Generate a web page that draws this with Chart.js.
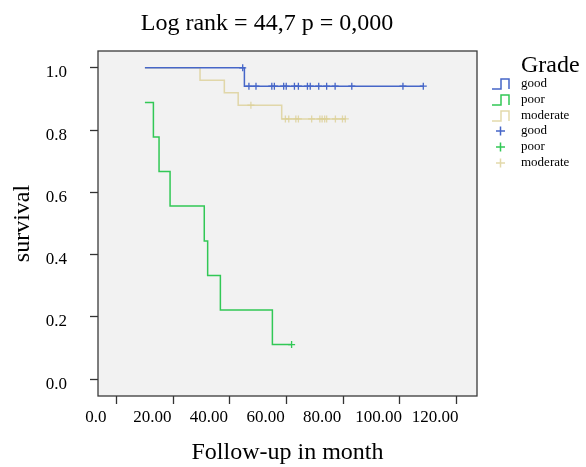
<!DOCTYPE html>
<html><head><meta charset="utf-8">
<script src="https://cdn.jsdelivr.net/npm/chart.js@4/dist/chart.umd.min.js"></script>
<style>html,body{margin:0;padding:0;background:#fff;}#wrap{width:586px;height:467px;}</style>
</head><body><div id="wrap"><canvas id="c" width="586" height="467"></canvas></div>
<script>
// ---- data ----
const titleText = 'Log rank = 44,7 p = 0,000';
const xTitle = 'Follow-up in month';
const yTitle = 'survival';
const legendTitle = 'Grade';
const groupNames = ['good', 'poor', 'moderate'];
const xTickValues = [0, 20, 40, 60, 80, 100, 120];
const xTickLabels = ['0.0', '20.00', '40.00', '60.00', '80.00', '100.00', '120.00'];
const yTickValues = [0, 0.2, 0.4, 0.6, 0.8, 1.0];
const yTickLabels = ['0.0', '0.2', '0.4', '0.6', '0.8', '1.0'];

const goodTimes = [9.9, 45.1, 108.4];
const goodSurv  = [1.0, 0.941, 0.941];
const poorTimes = [9.9, 12.9, 14.9, 18.8, 30.9, 32.1, 36.6, 55.0, 61.8];
const poorSurv  = [0.889, 0.778, 0.667, 0.556, 0.444, 0.333, 0.222, 0.111, 0.111];
const modTimes  = [9.9, 29.4, 38.0, 42.9, 58.3, 80.8];
const modSurv   = [1.0, 0.96, 0.92, 0.88, 0.836, 0.836];

const goodCensorTimes = [44.5, 46.7, 49.2, 54.8, 55.7, 59.0, 59.9, 62.8, 64.2, 67.4, 68.4, 71.4, 74.2, 77.2, 83.1, 101.2, 108.4];
const goodCensorSurv  = [1.0, 0.941, 0.941, 0.941, 0.941, 0.941, 0.941, 0.941, 0.941, 0.941, 0.941, 0.941, 0.941, 0.941, 0.941, 0.941, 0.941];
const poorCensorTimes = [61.8];
const poorCensorSurv  = [0.111];
const modCensorTimes  = [47.4, 59.6, 60.8, 63.3, 64.2, 68.9, 71.8, 72.6, 73.5, 74.2, 77.3, 79.8, 80.8];
const modCensorSurv   = [0.88, 0.836, 0.836, 0.836, 0.836, 0.836, 0.836, 0.836, 0.836, 0.836, 0.836, 0.836, 0.836];

// ---- styling ----
const colGood = 'rgb(70,102,200)';
const colPoor = 'rgb(50,200,86)';
const colMod  = 'rgba(220,208,150,0.8)';
const SERIF = '"Liberation Serif", "Times New Roman", serif';
Chart.defaults.font.family = SERIF;
Chart.defaults.color = '#000';

const pts = (xs, ys) => xs.map((x, i) => ({x: x, y: ys[i]}));

function stepSet(label, xs, ys, color) {
  return { label: label, data: pts(xs, ys), borderColor: color, backgroundColor: color,
    borderWidth: 1.5, stepped: true, pointRadius: 0, fill: false, showLine: true };
}
function censorSet(label, xs, ys, color) {
  return { label: label, data: pts(xs, ys), borderColor: color, backgroundColor: color,
    showLine: false, pointStyle: 'cross', pointRadius: 3.5, pointBorderWidth: 1.3, pointHoverRadius: 3.5 };
}

const frameBg = {
  id: 'frameBg',
  beforeDraw(chart) {
    const a = chart.chartArea, ctx = chart.ctx;
    ctx.save(); ctx.fillStyle = '#f2f2f2';
    ctx.fillRect(a.left, a.top, a.right - a.left, a.bottom - a.top); ctx.restore();
  },
  afterDatasetsDraw(chart) {
    const a = chart.chartArea, ctx = chart.ctx;
    ctx.save(); ctx.strokeStyle = '#3a3a3a'; ctx.lineWidth = 1.3;
    ctx.strokeRect(a.left, a.top, a.right - a.left, a.bottom - a.top); ctx.restore();
  },
  afterDraw(chart) {
    const ctx = chart.ctx;
    ctx.save();
    // main title
    ctx.fillStyle = '#000'; ctx.font = '24px ' + SERIF;
    ctx.textAlign = 'center'; ctx.textBaseline = 'alphabetic';
    ctx.fillText(titleText, 267, 30);
    // legend
    ctx.textAlign = 'left';
    ctx.font = '24px ' + SERIF;
    ctx.fillText(legendTitle, 521, 72);
    const cols = [colGood, colPoor, colMod];
    ctx.font = '13px ' + SERIF; ctx.textBaseline = 'middle';
    const rows = [84, 100, 116, 131, 147, 163];
    for (let i = 0; i < 6; i++) {
      const c = cols[i % 3], y = rows[i];
      ctx.strokeStyle = c; ctx.lineWidth = 1.5;
      ctx.beginPath();
      if (i < 3) {
        ctx.moveTo(492, y + 5); ctx.lineTo(501, y + 5); ctx.lineTo(501, y - 5);
        ctx.lineTo(509, y - 5); ctx.lineTo(509, y + 5);
      } else {
        ctx.moveTo(496, y); ctx.lineTo(505, y); ctx.moveTo(500.5, y - 4.5); ctx.lineTo(500.5, y + 4.5);
      }
      ctx.stroke();
      ctx.fillStyle = '#000';
      ctx.fillText(groupNames[i % 3], 521, y);
    }
    ctx.restore();
  }
};

new Chart(document.getElementById('c'), {
  type: 'line',
  data: {
    datasets: [
      stepSet('good', goodTimes, goodSurv, colGood),
      stepSet('poor', poorTimes, poorSurv, colPoor),
      stepSet('moderate', modTimes, modSurv, colMod),
      censorSet('good', goodCensorTimes, goodCensorSurv, colGood),
      censorSet('poor', poorCensorTimes, poorCensorSurv, colPoor),
      censorSet('moderate', modCensorTimes, modCensorSurv, colMod)
    ]
  },
  options: {
    responsive: false, animation: false, devicePixelRatio: 1,
    layout: { padding: { top: 51, right: 109, left: 0, bottom: 0 } },
    plugins: { legend: { display: false }, tooltip: { enabled: false } },
    scales: {
      x: {
        type: 'linear', min: -6.7, max: 127.4,
        afterBuildTicks: s => { s.ticks = xTickValues.map(v => ({ value: v })); },
        afterFit: s => { s.height = 71; },
        ticks: {
          callback: v => xTickLabels[xTickValues.indexOf(v)],
          font: { size: 17 }, color: '#000', labelOffset: -21, padding: 3,
          autoSkip: false, maxRotation: 0
        },
        grid: { drawOnChartArea: false, drawTicks: true, tickLength: 8, tickColor: '#333', tickWidth: 1.3 },
        border: { display: false },
        title: { display: true, text: xTitle, font: { size: 24 }, color: '#000', padding: { top: 0, bottom: 0 } }
      },
      y: {
        type: 'linear', min: -0.054, max: 1.054,
        afterBuildTicks: s => { s.ticks = yTickValues.map(v => ({ value: v })); },
        afterFit: s => { s.width = 98; },
        ticks: {
          callback: v => yTickLabels[yTickValues.indexOf(v)],
          font: { size: 17 }, color: '#000', labelOffset: 5, padding: 23
        },
        grid: { drawOnChartArea: false, drawTicks: true, tickLength: 8, tickColor: '#333', tickWidth: 1.3 },
        border: { display: false },
        title: { display: true, text: yTitle, font: { size: 24 }, color: '#000', padding: { top: 8, bottom: 0 } }
      }
    }
  },
  plugins: [frameBg]
});
</script></body></html>
